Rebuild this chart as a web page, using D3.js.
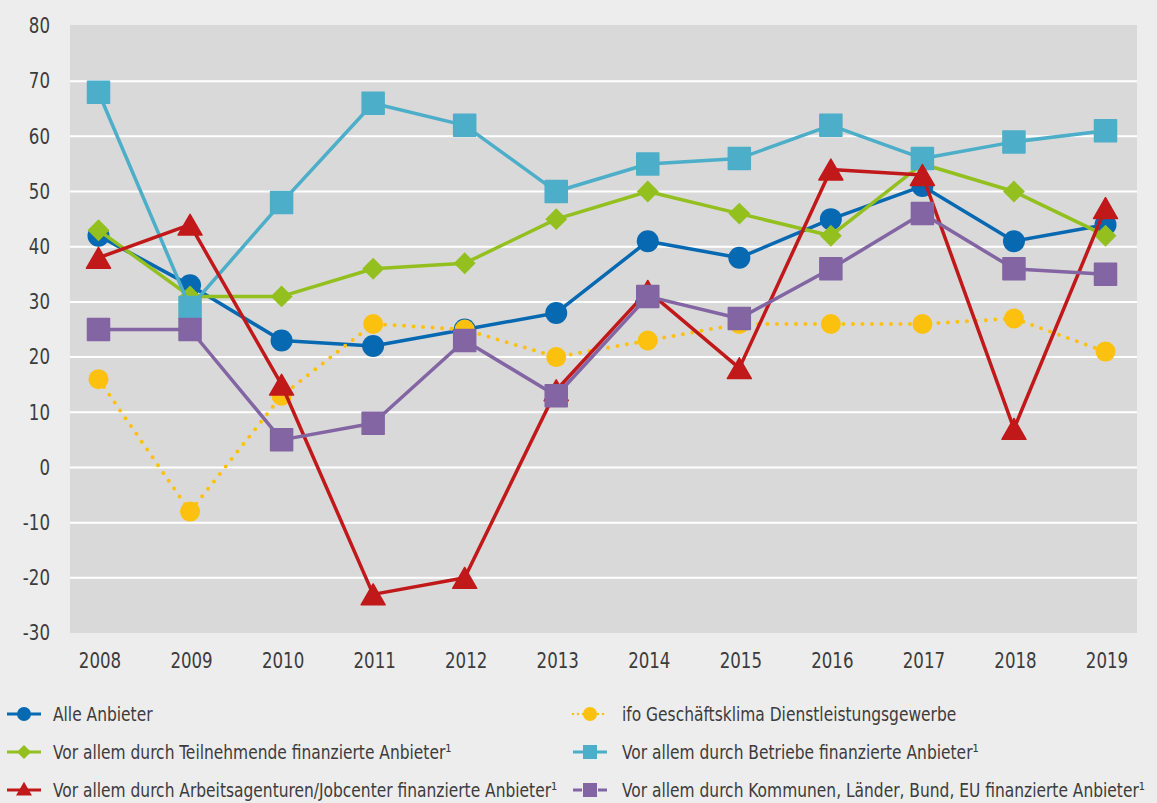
<!DOCTYPE html>
<html><head><meta charset="utf-8">
<script src="https://cdn.jsdelivr.net/npm/d3@7"></script>
<style>
html,body{margin:0;padding:0;background:#ededed;}
svg{display:block;}
text{font-family:"DejaVu Sans Condensed","DejaVu Sans",sans-serif;fill:#3c3c3c;}
</style></head><body>
<svg id="c" width="1157" height="803"></svg>
<script>
const years = [2008,2009,2010,2011,2012,2013,2014,2015,2016,2017,2018,2019];
const yTicks = [-30,-20,-10,0,10,20,30,40,50,60,70,80];
const alleAnbieter = [42,33,23,22,25,28,41,38,45,51,41,44];
const teilnehmende = [43,31,31,36,37,45,50,46,42,55,50,42];
const ifoKlima = [16,-8,13,26,25,20,23,26,26,26,27,21];
const betriebe = [68,29,48,66,62,50,55,56,62,56,59,61];
const arbeitsagenturen = [38,44,15,-23,-20,14,32,18,54,53,7,47];
const kommunen = [25,25,5,8,23,13,31,27,36,46,36,35];
const seriesNames = [
  "Alle Anbieter",
  "Vor allem durch Teilnehmende finanzierte Anbieter¹",
  "ifo Geschäftsklima Dienstleistungsgewerbe",
  "Vor allem durch Betriebe finanzierte Anbieter¹",
  "Vor allem durch Arbeitsagenturen/Jobcenter finanzierte Anbieter¹",
  "Vor allem durch Kommunen, Länder, Bund, EU finanzierte Anbieter¹"
];

const series = [
  {name:seriesNames[0], values:alleAnbieter, color:"#0669b2", shape:"circle", dotted:false, lx:7, ly:714},
  {name:seriesNames[1], values:teilnehmende, color:"#93c01f", shape:"diamond", dotted:false, lx:7, ly:752},
  {name:seriesNames[2], values:ifoKlima, color:"#fcc10e", shape:"circle", dotted:true, lx:573, ly:714},
  {name:seriesNames[3], values:betriebe, color:"#4caec8", shape:"square", dotted:false, lx:573, ly:752},
  {name:seriesNames[4], values:arbeitsagenturen, color:"#c1181a", shape:"triangle", dotted:false, lx:7, ly:790},
  {name:seriesNames[5], values:kommunen, color:"#8265a2", shape:"square", dotted:false, lx:573, ly:790, legendGap:true}
];

const svg = d3.select("#c");
const plotL = 70, plotR = 1137, plotT = 25, plotB = 633;
const x = d3.scalePoint().domain(years).range([98.5, 1105.5]);
const y = d3.scaleLinear().domain([-30,80]).range([633, 26]);

svg.append("rect").attr("x",plotL).attr("y",plotT).attr("width",plotR-plotL).attr("height",plotB-plotT).attr("fill","#d9d9d9");

// gridlines
svg.append("g").selectAll("line").data(yTicks.filter(t=>t>-30 && t<80)).join("line")
  .attr("x1",plotL).attr("x2",plotR).attr("y1",d=>y(d)).attr("y2",d=>y(d))
  .attr("stroke","#ffffff").attr("stroke-width",2);

// y axis labels
const yAxis = d3.axisLeft(y).tickValues(yTicks).tickSize(0).tickPadding(0).tickFormat(d=>d<0?"-"+Math.abs(d):d);
const ga = svg.append("g").attr("transform","translate(50,0)").call(yAxis);
ga.select(".domain").remove();
ga.selectAll("text").attr("font-size",21).attr("fill","#3c3c3c").style("font-family",null)
  .attr("transform","scale(0.88,1)");

// x axis labels
const xAxis = d3.axisBottom(x).tickSize(0).tickPadding(0);
const gx = svg.append("g").attr("transform","translate(1,653)").call(xAxis);
gx.select(".domain").remove();
gx.selectAll("text").attr("font-size",21).attr("fill","#3c3c3c").style("font-family",null)
  .attr("transform","scale(0.88,1)");

function symbolPath(shape, size){
  if(shape==="circle") return d3.symbol(d3.symbolCircle, size)();
  if(shape==="diamond") return d3.symbol(d3.symbolSquare, size)();
  if(shape==="square") return d3.symbol(d3.symbolSquare, size)();
  if(shape==="triangle") return d3.symbol(d3.symbolTriangle, size)();
}
function markerTransform(shape, px, py, tri){
  if(shape==="diamond") return `translate(${px},${py}) rotate(45)`;
  if(shape==="triangle") return `translate(${px},${py+tri})`;
  return `translate(${px},${py})`;
}
const sizes = {circle: Math.PI*11*11, diamond: 15.5*15.5, square: 22*22, triangle: 250};

const line = d3.line().x((d,i)=>x(years[i])).y(d=>y(d));

series.forEach(s=>{
  const g = svg.append("g");
  g.append("path").attr("d", line(s.values)).attr("fill","none")
    .attr("stroke", s.color)
    .attr("stroke-width", s.dotted?4:3.5)
    .attr("stroke-linecap", s.dotted?"round":"butt")
    .attr("stroke-linejoin","round")
    .attr("stroke-dasharray", s.dotted?"0,9.5":null);
  const sz = s.dotted ? Math.PI*10*10 : sizes[s.shape];
  g.selectAll("path.m").data(s.values).join("path").attr("class","m")
    .attr("d", symbolPath(s.shape, sz))
    .attr("transform",(d,i)=>markerTransform(s.shape, x(years[i]), y(d), 3.5))
    .attr("fill", s.color)
    .attr("stroke", s.shape==="square"||s.shape==="triangle" ? s.color : "none")
    .attr("stroke-width", 1.5).attr("stroke-linejoin","round");
});

// legend
series.forEach(s=>{
  const g = svg.append("g").attr("transform",`translate(${s.lx},${s.ly})`);
  if(s.legendGap){
    g.append("line").attr("x1",0).attr("x2",9).attr("y1",0).attr("y2",0).attr("stroke",s.color).attr("stroke-width",3);
    g.append("line").attr("x1",25).attr("x2",34).attr("y1",0).attr("y2",0).attr("stroke",s.color).attr("stroke-width",3);
  } else {
    g.append("line").attr("x1",0).attr("x2",34).attr("y1",0).attr("y2",0).attr("stroke",s.color)
      .attr("stroke-width", s.dotted?2.5:3)
      .attr("stroke-linecap", s.dotted?"round":"butt")
      .attr("stroke-dasharray", s.dotted?"0,5":null);
  }
  const lsz = {circle: Math.PI*7*7, diamond: 10*10, square: 14*14, triangle: 110}[s.shape];
  g.append("path").attr("d", symbolPath(s.shape, lsz))
    .attr("transform", markerTransform(s.shape, 17, 0, 1))
    .attr("fill", s.color);
  g.append("text").attr("x", 0).attr("y",0).attr("dy","0.35em")
    .attr("font-size",20)
    .attr("transform", `translate(${s.lx<100?46:49},0) scale(0.86,1)`)
    .text(s.name);
});
</script>
</body></html>
